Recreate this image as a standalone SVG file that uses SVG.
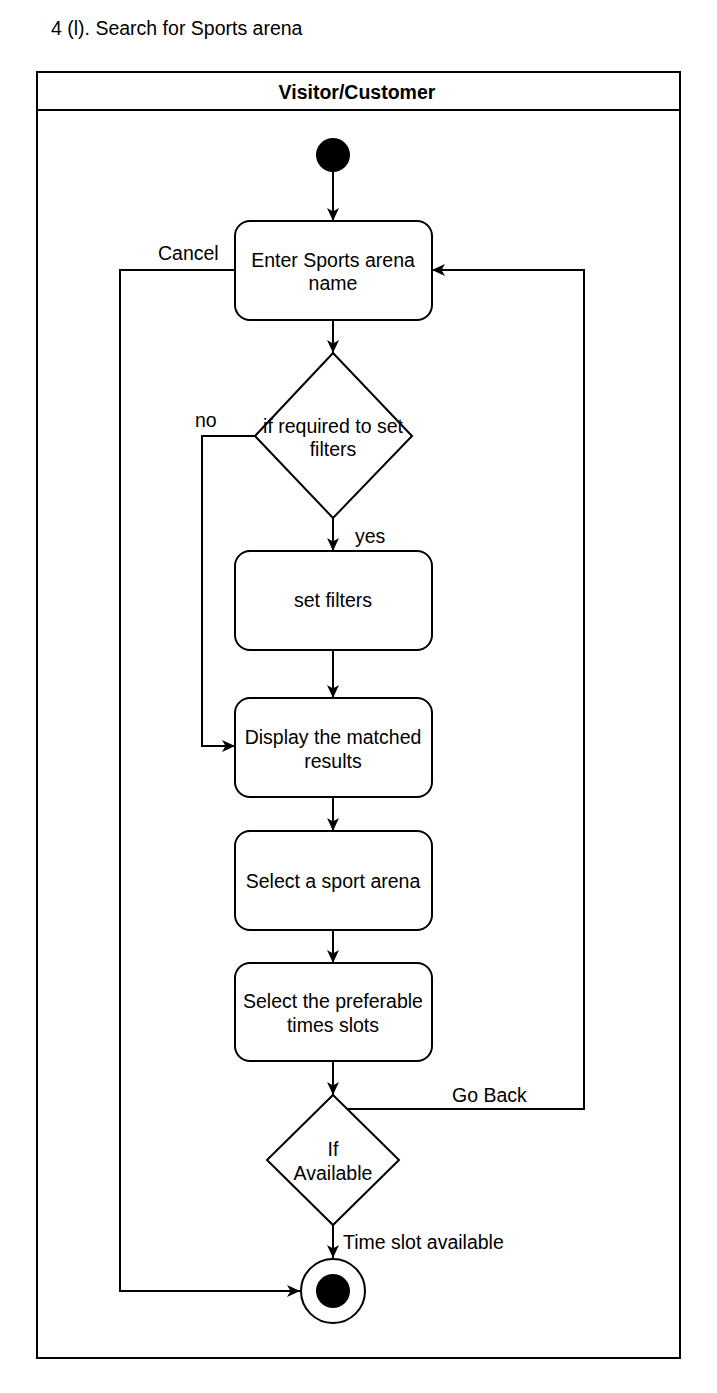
<svg xmlns="http://www.w3.org/2000/svg" width="717" height="1393" viewBox="0 0 717 1393">
<style>
text{font-family:"Liberation Sans",Arial,sans-serif;font-size:19.5px;fill:#000}
.c{text-anchor:middle}
.b{font-weight:bold}
.n{fill:#fff;stroke:#000;stroke-width:2}
.e{fill:none;stroke:#000;stroke-width:2;marker-end:url(#ah)}
</style>
<defs>
<marker id="ah" markerUnits="userSpaceOnUse" markerWidth="14" markerHeight="14" viewBox="0 0 14 14" refX="13" refY="7" orient="auto">
<path d="M0,1 L13,7 L0,13 L3.5,7 Z" fill="#000"/>
</marker>
</defs>
<rect width="717" height="1393" fill="#fff"/>
<text id="title" x="51" y="35">4 (l). Search for Sports arena</text>
<g id="pool">
<rect x="37" y="72" width="643" height="1286" fill="none" stroke="#000" stroke-width="2"/>
<line x1="37" y1="110" x2="680" y2="110" stroke="#000" stroke-width="2"/>
<text class="c b" x="357" y="99">Visitor/Customer</text>
</g>
<g id="connectors">
<path class="e" d="M333,172 L333,221"/>
<path class="e" d="M333,320 L333,353"/>
<path class="e" d="M333,518 L333,551" stroke-width="2.6"/>
<path class="e" d="M333,650 L333,698"/>
<path class="e" d="M333,797 L333,831"/>
<path class="e" d="M333,930 L333,963"/>
<path class="e" d="M333,1061 L333,1095"/>
<path class="e" d="M333,1225 L333,1258"/>
<path class="e" d="M235,270 L120,270 L120,1291 L300,1291"/>
<path class="e" d="M255,436 L202,436 L202,746 L235,746"/>
<path class="e" d="M348,1109 L584,1109 L584,270 L432,270"/>
<text x="158" y="260">Cancel</text>
<text x="195" y="427">no</text>
<text x="355" y="543">yes</text>
<text x="452" y="1102">Go Back</text>
<text x="343" y="1249">Time slot available</text>
</g>
<g id="start"><circle cx="333" cy="155" r="17" fill="#000"/></g>
<g id="enter">
<rect class="n" x="235" y="221" width="197" height="99" rx="15"/>
<text class="c" x="333" y="267">Enter Sports arena</text>
<text class="c" x="333" y="290">name</text>
</g>
<g id="dec1">
<polygon class="n" points="333,353 412,436 333,518 255,436"/>
<text class="c" x="333" y="433">if required to set</text>
<text class="c" x="333" y="456">filters</text>
</g>
<g id="setfilters">
<rect class="n" x="235" y="551" width="197" height="99" rx="15"/>
<text class="c" x="333" y="607">set filters</text>
</g>
<g id="display">
<rect class="n" x="235" y="698" width="197" height="99" rx="15"/>
<text class="c" x="333" y="744">Display the matched</text>
<text class="c" x="333" y="768">results</text>
</g>
<g id="selectarena">
<rect class="n" x="235" y="831" width="197" height="99" rx="15"/>
<text class="c" x="333" y="888">Select a sport arena</text>
</g>
<g id="selectslots">
<rect class="n" x="235" y="963" width="197" height="98" rx="15"/>
<text class="c" x="333" y="1008">Select the preferable</text>
<text class="c" x="333" y="1032">times slots</text>
</g>
<g id="dec2">
<polygon class="n" points="333,1095 399,1160 333,1225 267,1160"/>
<text class="c" x="333" y="1156">If</text>
<text class="c" x="333" y="1180">Available</text>
</g>
<g id="end">
<circle cx="333" cy="1291" r="32" fill="#fff" stroke="#000" stroke-width="2"/>
<circle cx="333" cy="1291" r="17" fill="#000"/>
</g>
</svg>
